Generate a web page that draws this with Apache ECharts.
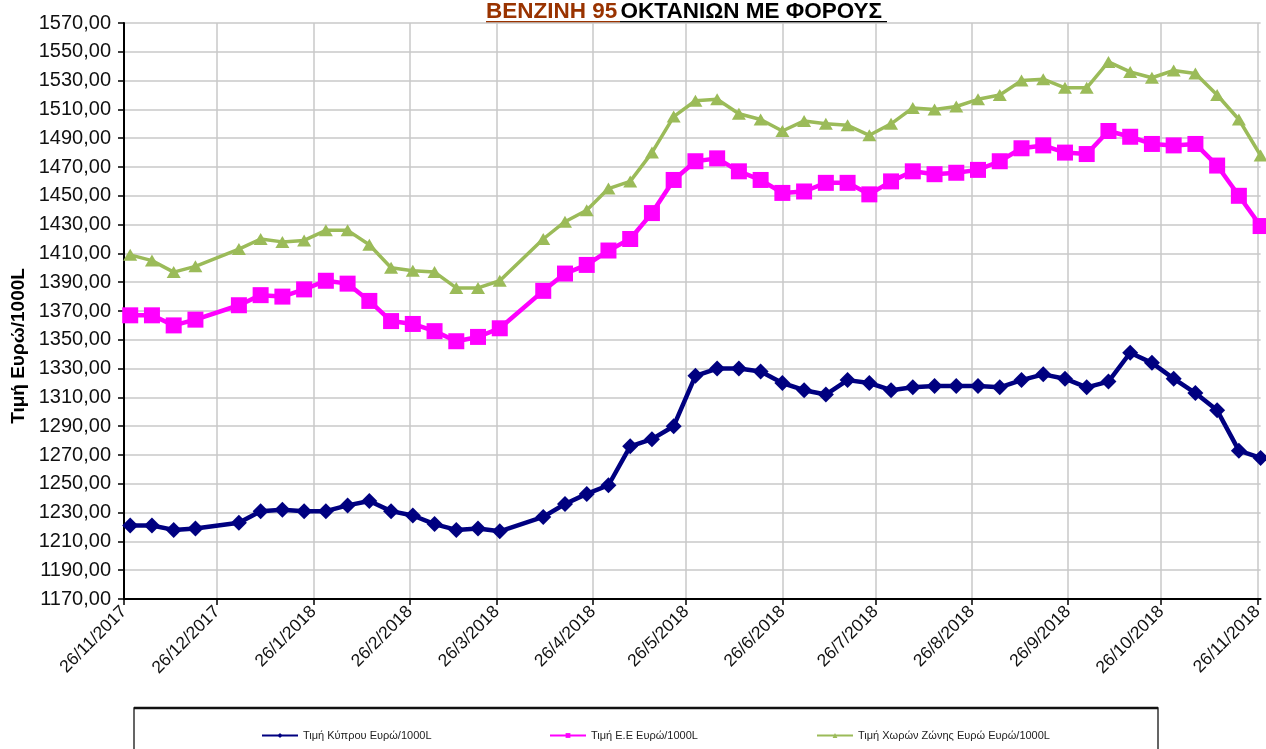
<!DOCTYPE html>
<html>
<head>
<meta charset="utf-8">
<title>BENZINH 95</title>
<script src="https://cdn.jsdelivr.net/npm/echarts@6/dist/echarts.min.js"></script>
<style>
  html, body { margin: 0; padding: 0; background: #fff; }
  #main { width: 1266px; height: 749px; }
</style>
</head>
<body>
<div id="main"></div>
<script>
// weekly price dates (Tuesdays), two weeks missing in the source
const dates = [
  "2017-11-28", "2017-12-05", "2017-12-12", "2017-12-19",
  "2018-01-02", "2018-01-09", "2018-01-16", "2018-01-23", "2018-01-30",
  "2018-02-06", "2018-02-13", "2018-02-20", "2018-02-27",
  "2018-03-06", "2018-03-13", "2018-03-20", "2018-03-27",
  "2018-04-10", "2018-04-17", "2018-04-24",
  "2018-05-01", "2018-05-08", "2018-05-15", "2018-05-22", "2018-05-29",
  "2018-06-05", "2018-06-12", "2018-06-19", "2018-06-26",
  "2018-07-03", "2018-07-10", "2018-07-17", "2018-07-24", "2018-07-31",
  "2018-08-07", "2018-08-14", "2018-08-21", "2018-08-28",
  "2018-09-04", "2018-09-11", "2018-09-18", "2018-09-25",
  "2018-10-02", "2018-10-09", "2018-10-16", "2018-10-23", "2018-10-30",
  "2018-11-06", "2018-11-13", "2018-11-20", "2018-11-27"
];

// Τιμή Κύπρου
const cyprus = [
  1221, 1221, 1218, 1219,
  1223, 1231, 1232, 1231, 1231,
  1235, 1238, 1231, 1228,
  1222, 1218, 1219, 1217,
  1227, 1236, 1243,
  1249, 1276, 1281, 1290, 1325,
  1330, 1330, 1328, 1320,
  1315, 1312, 1322, 1320, 1315,
  1317, 1318, 1318, 1318,
  1317, 1322, 1326, 1323,
  1317, 1321, 1341, 1334, 1323,
  1313, 1301, 1273, 1268
];

// Τιμή Ε.Ε
const eu = [
  1367, 1367, 1360, 1364,
  1374, 1381, 1380, 1385, 1391,
  1389, 1377, 1363, 1361,
  1356, 1349, 1352, 1358,
  1384, 1396, 1402,
  1412, 1420, 1438, 1461, 1474,
  1476, 1467, 1461, 1452,
  1453, 1459, 1459, 1451, 1460,
  1467, 1465, 1466, 1468,
  1474, 1483, 1485, 1480,
  1479, 1495, 1491, 1486, 1485,
  1486, 1471, 1450, 1429
];

// Τιμή Χωρών Ζώνης Ευρώ
const euroZone = [
  1409, 1405, 1397, 1401,
  1413, 1420, 1418, 1419, 1426,
  1426, 1416, 1400, 1398,
  1397, 1386, 1386, 1391,
  1420, 1432, 1440,
  1455, 1460, 1480, 1505, 1516,
  1517, 1507, 1503, 1495,
  1502, 1500, 1499, 1492, 1500,
  1511, 1510, 1512, 1517,
  1520, 1530, 1531, 1525,
  1525, 1543, 1536, 1532, 1537,
  1535, 1520, 1503, 1478
];

// x axis tick labels (26th of each month)
const tickDates = [
  "2017-11-26", "2017-12-26", "2018-01-26", "2018-02-26", "2018-03-26",
  "2018-04-26", "2018-05-26", "2018-06-26", "2018-07-26", "2018-08-26",
  "2018-09-26", "2018-10-26", "2018-11-26"
];

const seriesNames = [
  "Τιμή Κύπρου Ευρώ/1000L",
  "Τιμή Ε.Ε Ευρώ/1000L",
  "Τιμή Χωρών Ζώνης Ευρώ Ευρώ/1000L"
];

function toTs(s) {
  const p = s.split("-").map(Number);
  return new Date(p[0], p[1] - 1, p[2]).getTime();
}

const tickTs = tickDates.map(toTs);
const pairs = (vals) => dates.map((d, i) => [toTs(d), vals[i]]);

const chart = echarts.init(document.getElementById("main"));

const legendText = { fontFamily: "Liberation Sans", fontSize: 11, color: "#222" };
const mkLegend = (name, left) => ({
  data: [name],
  left: left,
  top: 725,
  itemWidth: 36,
  itemHeight: 6,
  textStyle: legendText,
  itemGap: 2
});

const option = {
  animation: false,
  backgroundColor: "#fff",
  textStyle: { fontFamily: "Liberation Sans" },
  grid: { left: 124, top: 23, right: 4, bottom: 150, containLabel: false },
  legend: [
    mkLegend(seriesNames[0], 256),
    mkLegend(seriesNames[1], 544),
    mkLegend(seriesNames[2], 811)
  ],
  graphic: [
    {
      type: "rect",
      shape: { x: 134, y: 708, width: 1024, height: 60 },
      style: { fill: "none", stroke: "#333", lineWidth: 1.5 },
      silent: true
    },
    {
      type: "line",
      shape: { x1: 134, y1: 708, x2: 1158, y2: 708 },
      style: { stroke: "#111", lineWidth: 2.5 },
      silent: true
    },
    {
      type: "text",
      left: 486,
      top: 0,
      style: {
        text: "{a|BENZINH 95} {b|ΟΚΤΑΝΙΩΝ ΜΕ ΦΟΡΟΥΣ}",
        rich: {
          a: { fontFamily: "Liberation Sans", fontWeight: "bold", fontSize: 22.5, fill: "#993300" },
          b: { fontFamily: "Liberation Sans", fontWeight: "bold", fontSize: 22.5, fill: "#000" }
        }
      },
      silent: true
    },
    {
      type: "line",
      shape: { x1: 486, y1: 22, x2: 620, y2: 22 },
      style: { stroke: "#993300", lineWidth: 2 },
      silent: true
    },
    {
      type: "line",
      shape: { x1: 620, y1: 22, x2: 887, y2: 22 },
      style: { stroke: "#000", lineWidth: 2 },
      silent: true
    },
    {
      type: "text",
      x: 19,
      y: 346,
      rotation: Math.PI / 2,
      style: {
        text: "Τιμή Ευρώ/1000L",
        fontFamily: "Liberation Sans",
        fontWeight: "bold",
        fontSize: 19,
        fill: "#000",
        align: "center",
        verticalAlign: "middle"
      },
      silent: true
    }
  ],
  xAxis: {
    type: "value",
    min: toTs("2017-11-26"),
    max: toTs("2018-11-27"),
    axisLine: { show: true, lineStyle: { color: "#000", width: 2 } },
    axisTick: { show: true, length: 6, customValues: tickTs, lineStyle: { color: "#000", width: 1.5 } },
    splitLine: { show: true, lineStyle: { color: "#c8c8c8", width: 1.5 } },
    axisLabel: {
      customValues: tickTs,
      rotate: 45,
      margin: 10,
      fontSize: 17.5,
      color: "#111",
      fontFamily: "Liberation Sans",
      formatter: (v) => {
        const d = new Date(v);
        return d.getDate() + "/" + (d.getMonth() + 1) + "/" + d.getFullYear();
      }
    }
  },
  yAxis: {
    type: "value",
    min: 1170,
    max: 1570,
    interval: 20,
    axisLine: { show: true, lineStyle: { color: "#000", width: 2 } },
    axisTick: { show: true, length: 6, lineStyle: { color: "#000", width: 1.5 } },
    splitLine: { show: true, lineStyle: { color: "#c8c8c8", width: 1.5 } },
    axisLabel: {
      fontSize: 20,
      color: "#111",
      margin: 13,
      fontFamily: "Liberation Sans",
      formatter: (v) => v.toFixed(2).replace(".", ",")
    }
  },
  series: [
    {
      name: seriesNames[0],
      type: "line",
      data: pairs(cyprus),
      symbol: "diamond",
      symbolSize: 16,
      lineStyle: { color: "#000080", width: 4.5 },
      itemStyle: { color: "#000080" },
      z: 4
    },
    {
      name: seriesNames[1],
      type: "line",
      data: pairs(eu),
      symbol: "rect",
      symbolSize: 16,
      lineStyle: { color: "#ff00ff", width: 4.5 },
      itemStyle: { color: "#ff00ff" },
      z: 3
    },
    {
      name: seriesNames[2],
      type: "line",
      data: pairs(euroZone),
      symbol: "triangle",
      symbolSize: [14, 12],
      lineStyle: { color: "#9bbb59", width: 3.5 },
      itemStyle: { color: "#9bbb59" },
      z: 2
    }
  ]
};

chart.setOption(option);
</script>
</body>
</html>
